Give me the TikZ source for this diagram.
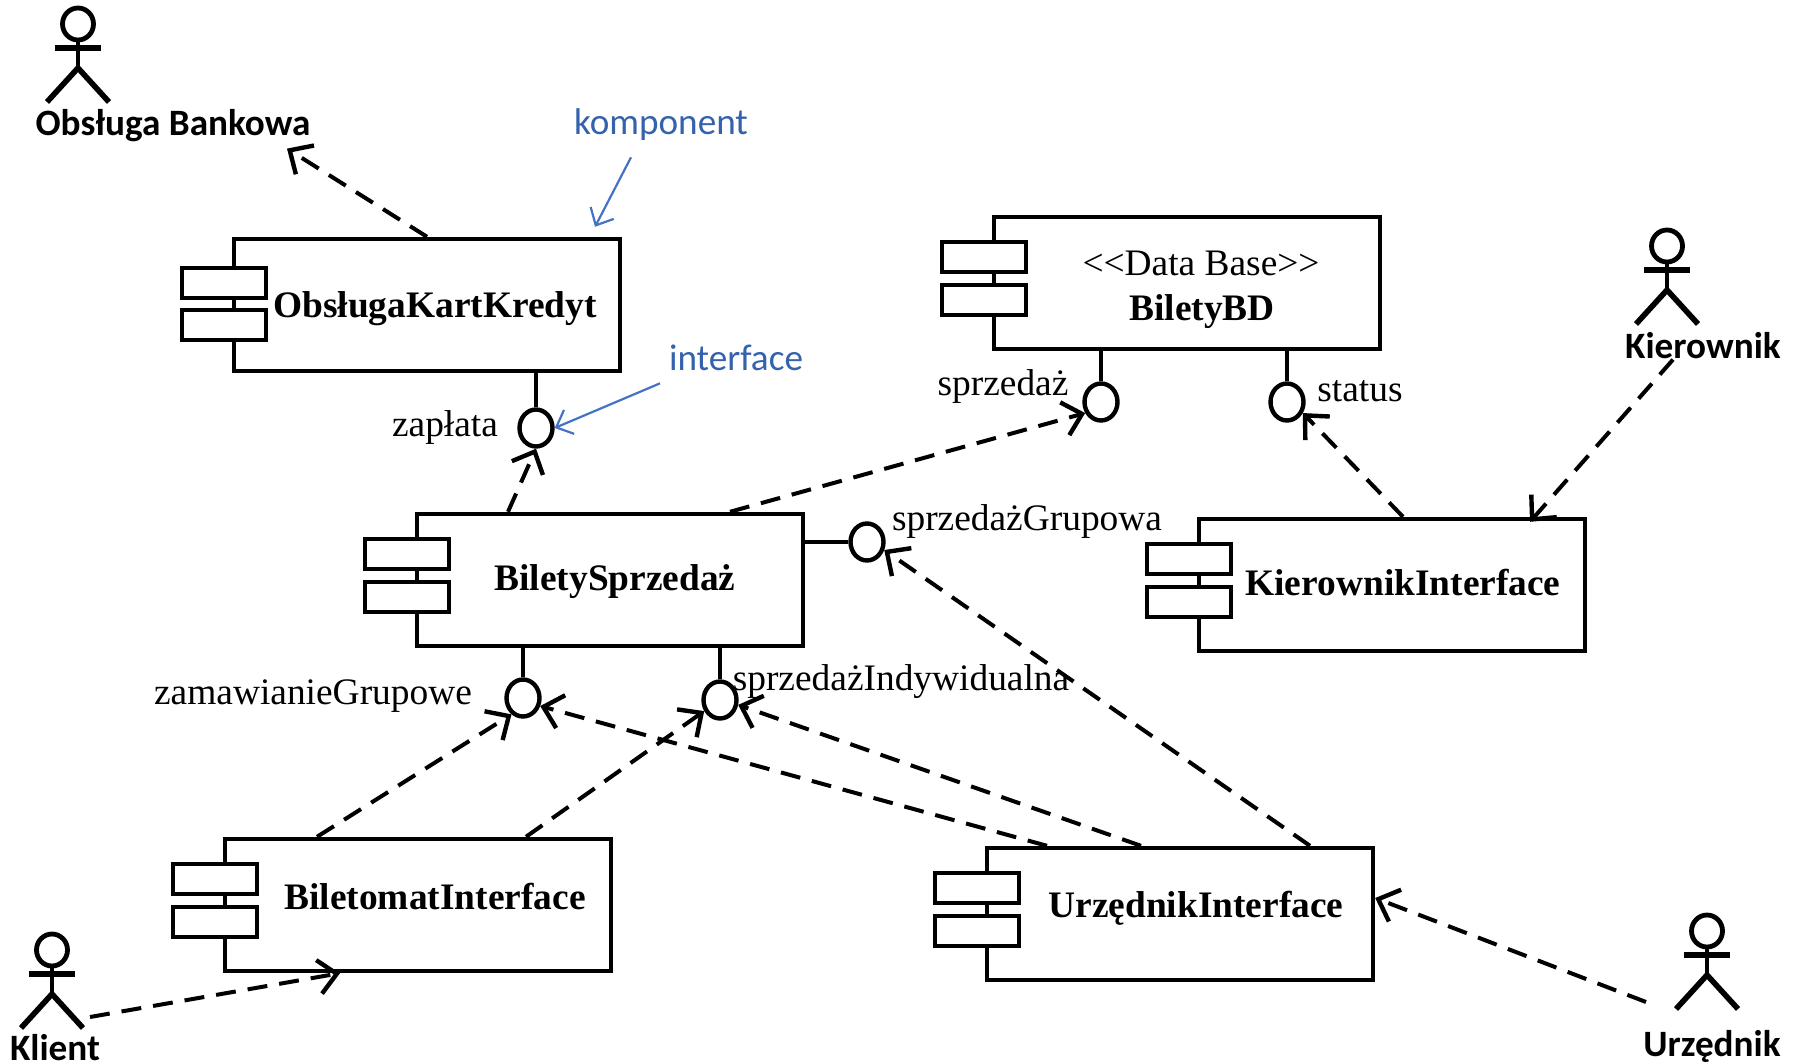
\documentclass[tikz,border=0pt]{standalone}
\usepackage{fontspec}
\setmainfont{Liberation Serif}
\newfontfamily\actorfont{Carlito}
\usetikzlibrary{positioning}
\usetikzlibrary{arrows.meta}
\usetikzlibrary{shapes.geometric}
\definecolor{noteblue}{HTML}{4472C4}
\definecolor{notetext}{HTML}{3462AC}
\tikzset{
  comp/.style={draw,line width=2.2pt,minimum width=193pt,minimum height=66pt,inner sep=0pt},
  comptab/.style={draw,fill=white,line width=2.2pt,minimum width=42pt,minimum height=15pt,inner sep=0pt},
  compname/.style={font=\fontsize{18.7}{20}\selectfont\bfseries,inner sep=0pt},
  iface/.style={draw,ellipse,fill=white,line width=2.2pt,minimum width=16.5pt,minimum height=18.5pt,inner sep=0pt},
  ifacename/.style={font=\fontsize{18.7}{20}\selectfont,inner sep=0pt},
  actorname/.style={font=\actorfont\fontsize{18.6}{20}\selectfont\bfseries,inner sep=0pt},
  notename/.style={font=\actorfont\fontsize{18.6}{20}\selectfont,text=notetext,inner sep=0pt},
  stem/.style={line width=2pt},
  dep/.style={line width=2pt,dash pattern=on 10pt off 6pt,-{Straight Barb[length=9pt,width=17pt,line width=2.2pt]}},
  note/.style={noteblue,line width=1.1pt,-{Straight Barb[length=7pt,width=13pt]}},
  actor/.pic={
    \draw[line width=2.4pt] (0,0) ellipse (15.5 and 16);
    \draw[line width=2.4pt] (0,16) -- (0,44);
    \draw[line width=3.2pt] (-23,24) -- (23,24);
    \draw[line width=2.8pt] (-31,78) -- (0,44) -- (31,78);
  }
}
\newcommand{\component}[4]{
  \node[comp] (#1) at (#2) {};
  \node[comptab] (#1top) at ([xshift=-4pt,yshift=#3]#1.west) {};
  \node[comptab] (#1bottom) at ([xshift=-4pt,yshift=#4]#1.west) {};
}
\begin{document}
\begin{tikzpicture}[x=0.5pt,y=-0.5pt]
\useasboundingbox (0,0) rectangle (1802,1064);

\component{okk}{427,305}{11pt}{-10pt}
\component{bbd}{1187,283}{13pt}{-8.5pt}
\component{bsp}{610,580}{13pt}{-8.5pt}
\component{kin}{1392,585}{13pt}{-8.5pt}
\component{bin}{418,905}{13pt}{-8.5pt}
\component{uin}{1180,914}{13pt}{-8.5pt}

\node[compname] (okkname) at (435,309) {ObsługaKartKredyt};
\node[ifacename] (bbdtype) at (1201,263) {<{}<Data Base>{}>};
\node[compname] (bbdname) at (1202,312) {BiletyBD};
\node[compname] (bspname) at (615,582) {BiletySprzedaż};
\node[compname] (kinname) at (1403,583) {KierownikInterface};
\node[compname] (binname) at (435,897) {BiletomatInterface};
\node[compname] (uinname) at (1196,908) {UrzędnikInterface};

\node[iface] (zap) at (536,428) {};
\node[iface] (spr) at (1101,402) {};
\node[iface] (sta) at (1287,402) {};
\node[iface] (gru) at (867,542) {};
\node[iface] (zam) at (523,698) {};
\node[iface] (ind) at (720,700) {};

\node[ifacename] (zapname) at (445,428) {zapłata};
\node[ifacename] (sprname) at (1003,387) {sprzedaż};
\node[ifacename] (staname) at (1360,391) {status};
\node[ifacename] (gruname) at (1027,522) {sprzedażGrupowa};
\node[ifacename] (zamname) at (313,696) {zamawianieGrupowe};
\node[ifacename] (indname) at (901,682) {sprzedażIndywidualna};

\draw[stem] (zap.north |- okk.south) -- (zap);
\draw[stem] (spr.north |- bbd.south) -- (spr);
\draw[stem] (sta.north |- bbd.south) -- (sta);
\draw[stem] (gru.west -| bsp.east) -- (gru);
\draw[stem] (zam.north |- bsp.south) -- (zam);
\draw[stem] (ind.north |- bsp.south) -- (ind);

\pic at (78,24) {actor};
\pic at (1667,246) {actor};
\pic at (52,950) {actor};
\pic at (1707,931) {actor};

\node[actorname] (bank) at (173,126) {Obsługa Bankowa};
\node[actorname] (kier) at (1703,346) {Kierownik};
\node[actorname] (kli) at (55,1048) {Klient};
\node[actorname] (urz) at (1712,1046) {Urzędnik};

\node[notename] (kompo) at (661,125) {komponent};
\node[notename] (inter) at (736,358) {interface};

\coordinate (kliend) at (90,1017);
\coordinate (urzend) at (1646,1002);

\draw[dep] (okk.north) -- ([xshift=57pt,yshift=-3pt]bank.south);
\draw[dep] ([xshift=-51pt]bsp.north) -- (zap.south);
\draw[dep] ([xshift=60pt]bsp.north) -- (spr.215);
\draw[dep] ([xshift=5.5pt]kin.north) -- (sta.-35);
\draw[dep] ([xshift=-15pt]kier.south) -- ([xshift=69pt,yshift=-2.5pt]kin.north);
\draw[dep] ([xshift=65pt]uin.north) -- (gru.-25);
\draw[dep] ([xshift=-19.5pt]uin.north) -- (ind.-15);
\draw[dep] ([xshift=-66.5pt]uin.north) -- (zam.-25);
\draw[dep] ([xshift=-50.5pt]bin.north) -- (zam.-125);
\draw[dep] ([xshift=54pt]bin.north) -- (ind.215);
\draw[dep] (kliend) -- ([xshift=-39pt]bin.south);
\draw[dep] (urzend) -- ([yshift=8pt]uin.east);

\draw[note] ([xshift=-15pt,yshift=-8pt]kompo.south) -- ([xshift=84pt,yshift=5pt]okk.north);
\draw[note] ([xshift=-38pt,yshift=-6pt]inter.south) -- (zap.east);
\end{tikzpicture}
\end{document}
